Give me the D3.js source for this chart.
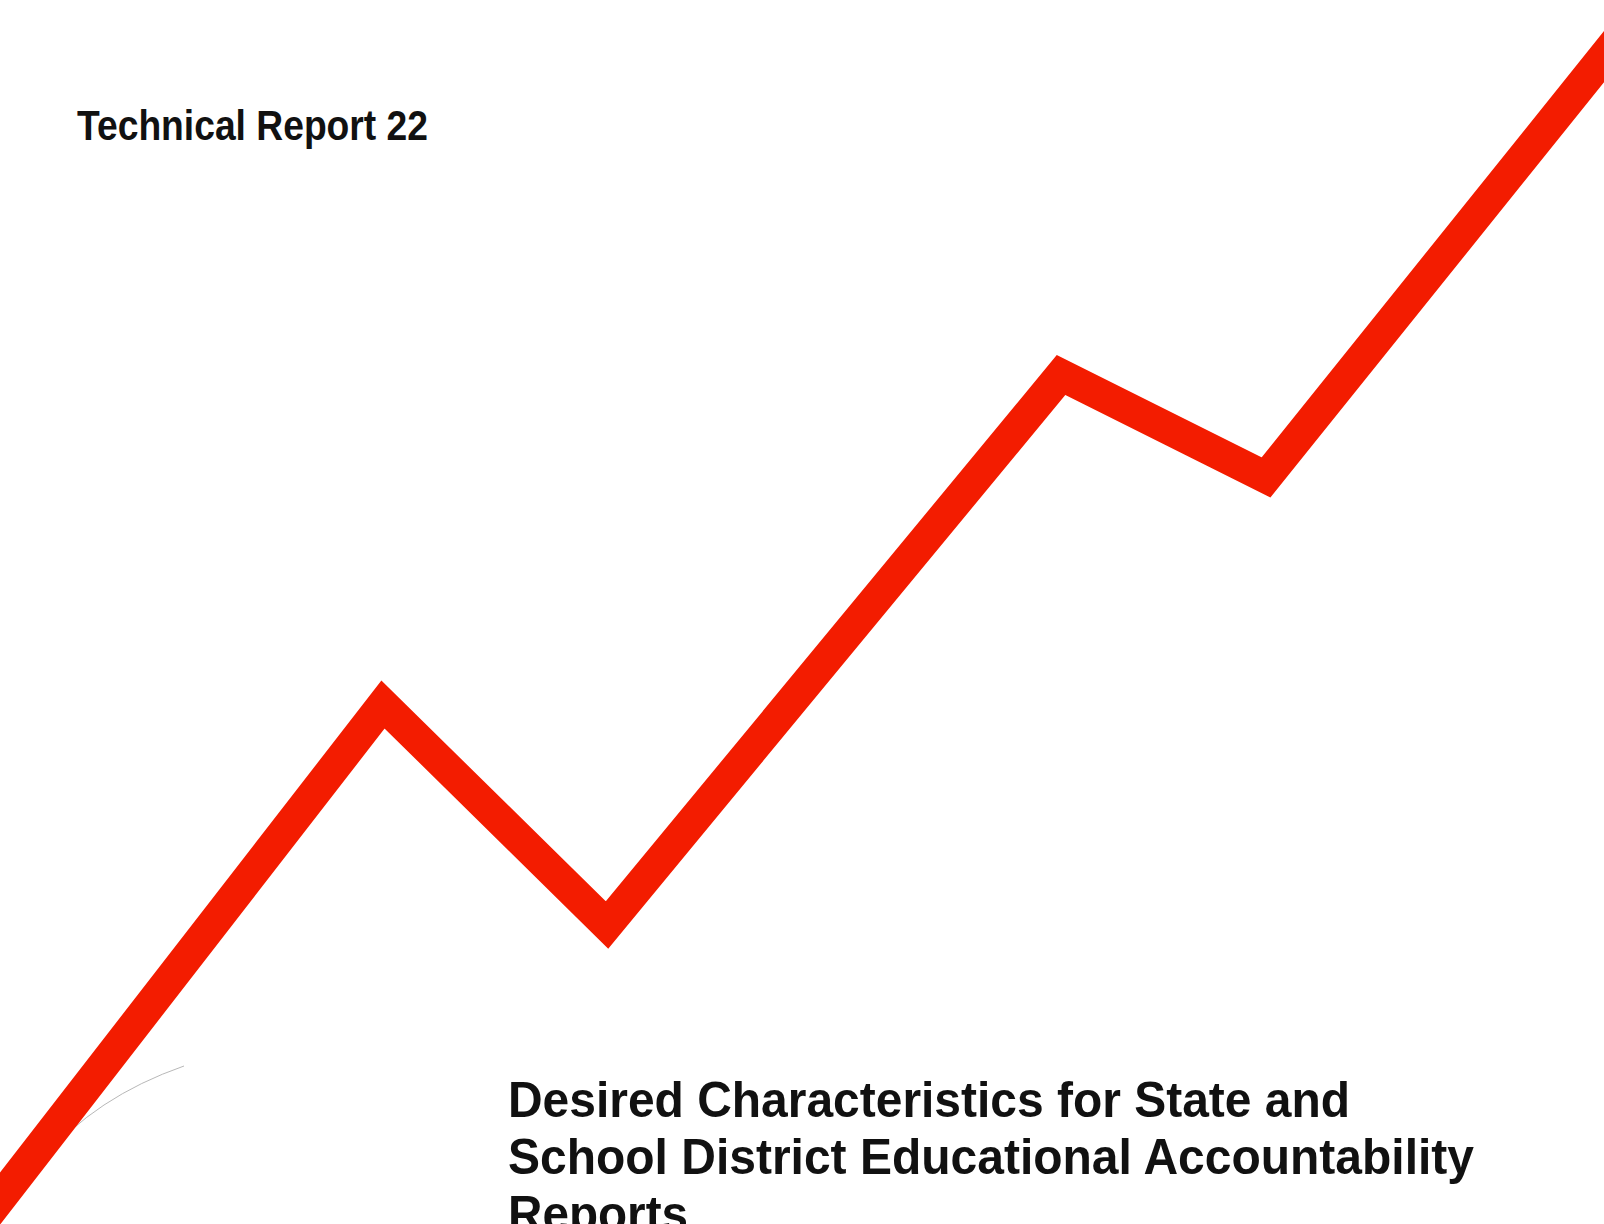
<!DOCTYPE html>
<html>
<head>
<meta charset="utf-8">
<script src="https://cdn.jsdelivr.net/npm/d3@7"></script>
<style>
  html, body { margin: 0; padding: 0; background: #ffffff; }
  svg { display: block; }
</style>
</head>
<body>
<div id="chart"></div>
<script>
// ---- data ----
const pointLabels = ["start", "peak 1", "trough 1", "peak 2", "trough 2", "end"];
const xValues = [-0.60, 3.83, 6.07, 10.61, 12.66, 16.80];
const yValues = [-0.52, 5.195, 2.99, 8.49, 7.465, 12.62];

const reportLabel = "Technical Report 22";
const titleLines = [
  "Desired Characteristics for State and",
  "School District Educational Accountability",
  "Reports"
];

// ---- layout ----
const W = 1604, H = 1224;
const svg = d3.select("#chart").append("svg")
  .attr("width", W).attr("height", H)
  .style("background", "#ffffff");

const x = d3.scaleLinear().domain([0, 16.04]).range([0, W]);
const y = d3.scaleLinear().domain([0, 12.24]).range([H, 0]);

const data = pointLabels.map((label, i) => ({ label, x: xValues[i], y: yValues[i] }));

// faint paper crease near lower left (decorative)
svg.append("path")
  .attr("d", "M184,1066 Q95,1097 42,1160")
  .attr("fill", "none")
  .attr("stroke", "#b8b8b8")
  .attr("stroke-width", 1);

// red zig-zag line
const line = d3.line().x(d => x(d.x)).y(d => y(d.y)).curve(d3.curveLinear);
svg.append("path")
  .datum(data)
  .attr("d", line)
  .attr("fill", "none")
  .attr("stroke", "#f31c00")
  .attr("stroke-width", 32)
  .attr("stroke-linejoin", "miter")
  .attr("stroke-miterlimit", 10);

// report label
svg.append("text")
  .attr("x", 77).attr("y", 140)
  .attr("font-family", "'Liberation Sans', Arial, Helvetica, sans-serif")
  .attr("font-weight", "bold")
  .attr("font-size", 42)
  .attr("fill", "#111111")
  .attr("textLength", 351)
  .attr("lengthAdjust", "spacingAndGlyphs")
  .text(reportLabel);

// title
const titleWidths = [842, 966, 180];
svg.selectAll("text.title")
  .data(titleLines)
  .join("text")
  .attr("class", "title")
  .attr("x", 508)
  .attr("y", (d, i) => 1117 + i * 57)
  .attr("font-family", "'Liberation Sans', Arial, Helvetica, sans-serif")
  .attr("font-weight", "bold")
  .attr("font-size", 50)
  .attr("fill", "#111111")
  .attr("textLength", (d, i) => titleWidths[i])
  .attr("lengthAdjust", "spacingAndGlyphs")
  .text(d => d);
</script>
</body>
</html>
